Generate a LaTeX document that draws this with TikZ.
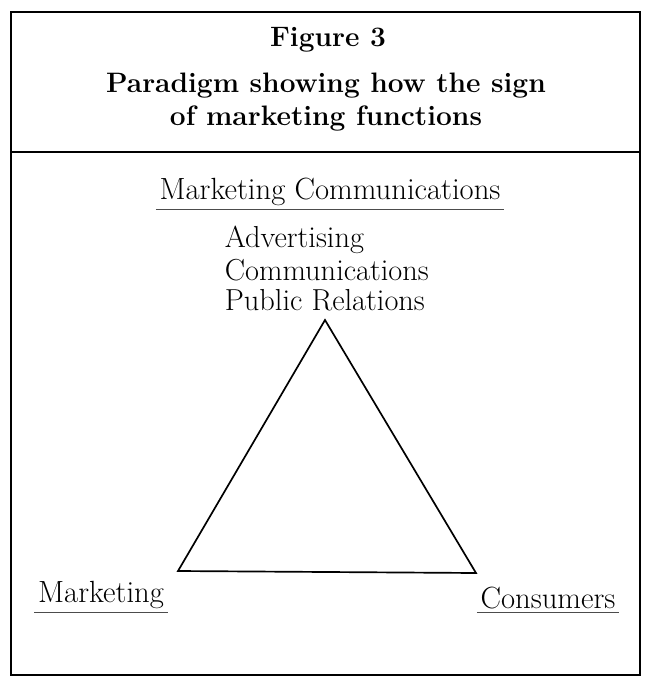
\documentclass[tikz,border=0pt]{standalone}
\usepackage{tikz}

\tikzset{
    title/.style={font=\fontsize{20}{24}\selectfont\bfseries},
    label/.style={font=\fontsize{21.8}{26}\selectfont, inner sep=2pt},
    item/.style={font=\fontsize{21.6}{26}\selectfont, anchor=west, inner sep=0pt},
    rule/.style={line width=1pt, black!70}
}

\begin{document}
\begin{tikzpicture}[x=0.025cm, y=-0.025cm, line width=1.2pt]
    \useasboundingbox (0,0) rectangle (650,677);
    % Frame and heading
    \draw (11,12) rectangle (640,675);
    \draw (11,152) -- (640,152);
    \node[title] (fig) at (328,40) {Figure 3};
    \node[title] (head1) at (326,86) {Paradigm showing how the sign};
    \node[title] (head2) at (326,118) {of marketing functions};
    % Corners of the triangle
    \coordinate (top) at (325,320);
    \coordinate (left) at (178,571);
    \coordinate (right) at (476,573);
    \draw (top) -- (left) -- (right) -- cycle;
    % Labels
    \node[label] (mc) at (330,192) {Marketing Communications};
    \draw[rule] (mc.south west) -- (mc.south east);
    \node[item] (adv) at (224,240) {Advertising};
    \node[item] (com) at (224,270) {Communications};
    \node[item] (pr) at (224,300) {Public Relations};
    \node[label] (mkt) at (101,595) {Marketing};
    \draw[rule] (mkt.south west) -- (mkt.south east);
    \node[label] (con) at (548,598) {Consumers};
    \draw[rule] (con.south west) -- (con.south east);
\end{tikzpicture}
\end{document}
